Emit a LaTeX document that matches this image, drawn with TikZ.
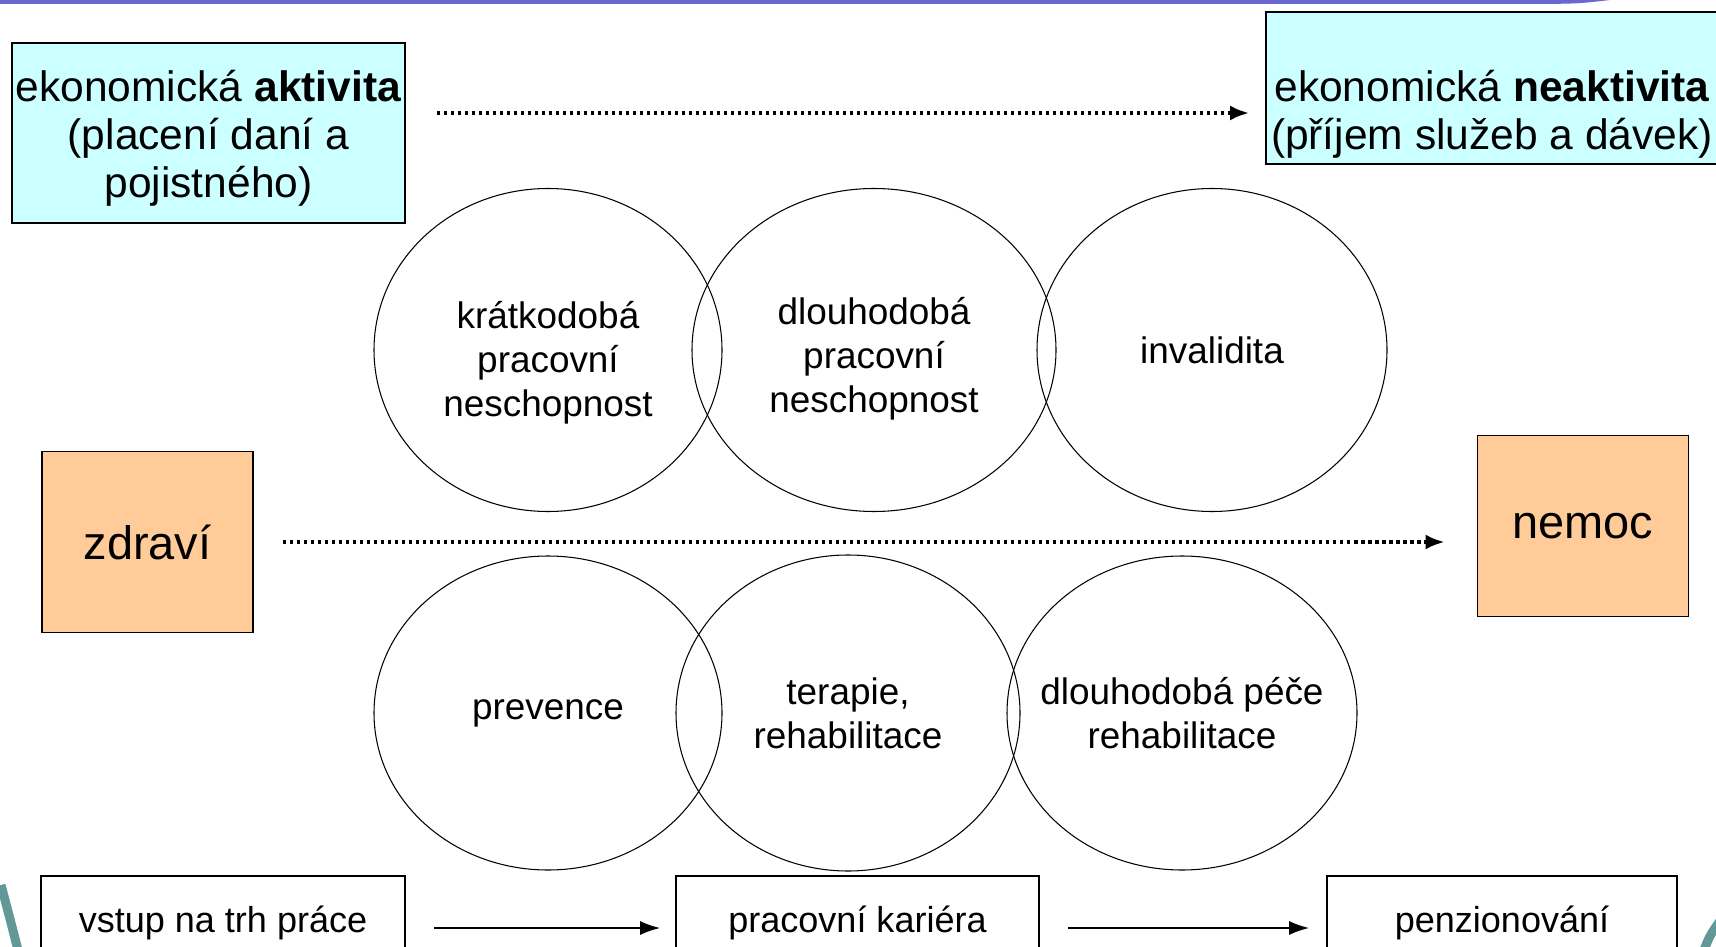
\documentclass[tikz,border=0pt]{standalone}
\usepackage{fontspec}
\setmainfont{Liberation Sans}
\usetikzlibrary{shapes.geometric,arrows.meta}
\definecolor{actcyan}{RGB}{204,255,255}
\definecolor{healthorange}{RGB}{255,204,153}
\definecolor{slidepurple}{RGB}{106,103,206}
\definecolor{slideteal}{RGB}{98,152,152}

\begin{document}
\begin{tikzpicture}[
		infobox/.style={rectangle, draw, line width=1pt, fill=actcyan, inner sep=0pt},
		infotext/.style={align=center, inner sep=0pt, font=\fontsize{24.2}{27.3}\selectfont},
		statebox/.style={rectangle, draw, line width=1pt, fill=healthorange, inner sep=0pt, minimum width=4.22cm, minimum height=3.62cm, font=\fontsize{26.7}{30}\selectfont},
		phase/.style={ellipse, draw, line width=0.6pt, inner xsep=-0.6cm, inner ysep=0pt, align=center, font=\fontsize{21}{25}\selectfont},
		phasetext/.style={align=center, inner sep=0pt, font=\fontsize{21}{25}\selectfont},
		stagebox/.style={rectangle, draw, line width=0.9pt, inner sep=0pt, minimum height=1.88cm, font=\fontsize{20.5}{24}\selectfont},
		dotarrow/.style={->, >={Latex[length=0.38cm,width=0.3cm]}, line width=0.07cm, dash pattern=on 0.07cm off 0.07cm},
		flowarrow/.style={->, >={Latex[length=0.4cm,width=0.28cm]}, line width=0.04cm}
	]
		\useasboundingbox (0,0) rectangle (34.32,-18.94);
		\fill[white] (0,0) rectangle (34.32,-18.94);
		% slide decoration
		\fill[slidepurple] (0,0) -- (32.2,0) .. controls (31.6,-0.07) .. (30.9,-0.08) -- (0,-0.08) -- cycle;
		\draw[slideteal, line width=0.18cm] (0.02,-17.7) .. controls (0.18,-18.3) .. (0.36,-19.0);
		\draw[slideteal, line width=0.18cm] (34.08,-19.0) .. controls (34.2,-18.7) .. (34.45,-18.35);

		% economic activity
		\node[infobox, minimum width=7.86cm, minimum height=3.6cm] (act) at (4.17,-2.66) {};
		\node[infotext] (acttext) at ([yshift=-0.11cm]act.center) {ekonomická \textbf{aktivita}\\(placení daní a\\pojistného)};
		\node[infobox, minimum width=9.04cm, minimum height=3.04cm] (inact) at (29.84,-1.76) {};
		\node[infotext] (inacttext) at ([yshift=-0.52cm]inact.center) {ekonomická \textbf{neaktivita}\\(příjem služeb a dávek)};
		\coordinate (topy) at (0,-2.26);
		\draw[dotarrow, shorten <=0.62cm, shorten >=0.32cm] (act.east |- topy) -- (inact.west |- topy);

		% work incapacity
		\node[phase, minimum width=6.96cm, minimum height=6.46cm] (short) at (10.96,-7.0) {};
		\node[phasetext] (shorttext) at ([yshift=-0.26cm]short.center) {krátkodobá\\pracovní\\neschopnost};
		\node[phase, minimum width=7.28cm, minimum height=6.46cm] (long) at (17.48,-7.0) {};
		\node[phasetext] (longtext) at ([yshift=-0.18cm]long.center) {dlouhodobá\\pracovní\\neschopnost};
		\node[phase, minimum width=7.0cm, minimum height=6.46cm] (inval) at (24.24,-7.0) {invalidita};

		% health
		\node[statebox] (health) at (2.95,-10.84) {zdraví};
		\node[statebox] (ill) at (31.66,-10.52) {nemoc};
		\draw[dotarrow, shorten <=0.58cm, shorten >=0.64cm] (health) -- (health -| ill.west);

		% care
		\node[phase, minimum width=6.96cm, minimum height=6.28cm] (prev) at (10.96,-14.26) {prevence};
		\node[phase, minimum width=6.88cm, minimum height=6.32cm] (ther) at (16.96,-14.26) {terapie,\\rehabilitace};
		\node[phase, minimum width=7.0cm, minimum height=6.28cm] (care) at (23.64,-14.26) {dlouhodobá péče\\rehabilitace};

		% career
		\node[stagebox, minimum width=7.28cm] (entry) at (4.46,-18.46) {vstup na trh práce};
		\node[stagebox, minimum width=7.26cm] (career) at (17.15,-18.46) {pracovní kariéra};
		\node[stagebox, minimum width=7.0cm] (retire) at (30.04,-18.46) {penzionování};
		\draw[flowarrow, shorten <=0.56cm, shorten >=0.3cm] ([yshift=-0.1cm]entry.east) -- ([yshift=-0.1cm]career.west);
		\draw[flowarrow, shorten <=0.56cm, shorten >=0.34cm] ([yshift=-0.1cm]career.east) -- ([yshift=-0.1cm]retire.west);
\end{tikzpicture}
\end{document}
